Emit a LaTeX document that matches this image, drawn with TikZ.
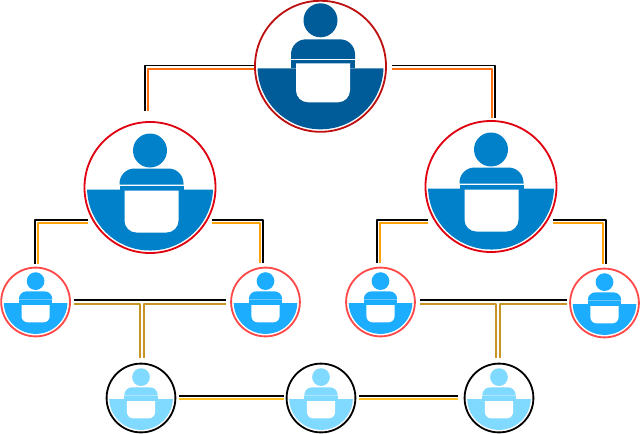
\documentclass[tikz,border=0pt]{standalone}
\usepackage{tikz}
\usetikzlibrary{calc}
\usepackage{xcolor}
\definecolor{ringBoss}{HTML}{BE1010}
\definecolor{ringMgr}{HTML}{E00010}
\definecolor{ringLead}{HTML}{FF4848}
\definecolor{fillBoss}{HTML}{005C99}
\definecolor{fillMgr}{HTML}{0081C9}
\definecolor{fillLead}{HTML}{1CADFF}
\definecolor{fillStaff}{HTML}{80D9FF}
\definecolor{wireBoss}{HTML}{FF6E10}
\definecolor{wireMgr}{HTML}{FFA20A}
\definecolor{wireLead}{HTML}{C8961E}
\definecolor{wireStaff}{HTML}{FFC01E}
\tikzset{
  bigring/.style={draw=#1, line width=1.3pt, circle, fill=white, inner sep=0pt, minimum size=3.275cm},
  smallring/.style={draw=#1, line width=1.3pt, circle, fill=white, inner sep=0pt, minimum size=1.72cm},
  wire/.style={draw=#1, line width=1.35pt, line join=round},
  pics/person/.style n args={8}{code={
    \fill[#1] (0,#2) circle[radius=17];
    \fill[#1] (#7,2) arc[start angle=1.8, end angle=178.2, radius=#7] -- cycle;
    \begin{scope}[shift={(#8,0)}]
    \fill[#1] (-32,#4-1.5) -- (-32,#3+15) arc[start angle=180, end angle=270, radius=15]
      -- (17,#3) arc[start angle=270, end angle=360, radius=15] -- (32,#4-1.5) -- cycle;
    \fill[#1] (-32,#4) rectangle (32,2);
    \fill[white] (-27,#5) -- (27,#5) -- (27,#6-12) arc[start angle=0, end angle=90, radius=12]
      -- (-15,#6) arc[start angle=90, end angle=180, radius=12] -- cycle;
    \end{scope}
  }},
}
\begin{document}
\begin{tikzpicture}[x=0.025cm, y=-0.025cm]
\useasboundingbox (0,0) rectangle (640,434);
% rings
\node[bigring=ringBoss] (boss) at (320.5,66.3) {};
\node[bigring=ringMgr] (mgrL) at (150,187.5) {};
\node[bigring=ringMgr] (mgrR) at (491,186.5) {};
\node[smallring=ringLead] (leadA) at (35.6,302) {};
\node[smallring=ringLead] (leadB) at (265.5,302) {};
\node[smallring=ringLead] (leadC) at (380.5,302) {};
\node[smallring=ringLead] (leadD) at (604.5,303) {};
\node[smallring=black] (staffA) at (141,398) {};
\node[smallring=black] (staffB) at (321,398) {};
\node[smallring=black] (staffC) at (499,398) {};
% icons
\pic at (boss) {person={fillBoss}{-46}{-27}{-6}{-3}{36}{63}{2.5}};
\pic at (mgrL) {person={fillMgr}{-37}{-19}{-1.5}{3}{45}{63}{1.5}};
\pic at (mgrR) {person={fillMgr}{-37}{-19}{-1.5}{3}{45}{63}{0.5}};
\pic[scale=.522] at (leadA) {person={fillLead}{-40}{-20.5}{-3}{6}{39}{61}{0}};
\pic[scale=.522] at (leadB) {person={fillLead}{-40}{-20.5}{-3}{6}{39}{61}{0}};
\pic[scale=.522] at (leadC) {person={fillLead}{-40}{-20.5}{-3}{6}{39}{61}{0}};
\pic[scale=.522] at (leadD) {person={fillLead}{-40}{-20.5}{-3}{6}{39}{61}{0}};
\pic[scale=.522] at (staffA) {person={fillStaff}{-40}{-20.5}{-3}{6}{39}{61}{0}};
\pic[scale=.522] at (staffB) {person={fillStaff}{-40}{-20.5}{-3}{6}{39}{61}{0}};
\pic[scale=.522] at (staffC) {person={fillStaff}{-40}{-20.5}{-3}{6}{39}{61}{0}};
% top level
\draw[wire=black] ($(boss)+(-66.5,-0.8)$) -| ($(mgrL)+(-5,-77)$);
\draw[wire=wireBoss] ($(boss)+(-66.5,2.4)$) -| ($(mgrL)+(-2,-77)$);
\draw[wire=black] ($(boss)+(71.5,-0.8)$) -| ($(mgrR)+(3.7,-68.8)$);
\draw[wire=wireBoss] ($(boss)+(71.5,2.4)$) -| ($(mgrR)+(0.7,-68.8)$);
% second level
\draw[wire=black] ($(mgrL)+(-62.5,32.5)$) -| ($(leadA)+(-0.6,-38)$);
\draw[wire=wireMgr] ($(mgrL)+(-62.5,35.7)$) -| ($(leadA)+(2.4,-38)$);
\draw[wire=black] ($(mgrL)+(62.3,32.5)$) -| ($(leadB)+(-2.2,-39)$);
\draw[wire=wireMgr] ($(mgrL)+(62.3,35.7)$) -| ($(leadB)+(-5.2,-39)$);
\draw[wire=black] ($(mgrR)+(-62.7,33.5)$) -| ($(leadC)+(-3.8,-39)$);
\draw[wire=wireMgr] ($(mgrR)+(-62.7,36.7)$) -| ($(leadC)+(-0.8,-39)$);
\draw[wire=black] ($(mgrR)+(62,33.5)$) -| ($(leadD)+(1.2,-39)$);
\draw[wire=wireMgr] ($(mgrR)+(62,36.7)$) -| ($(leadD)+(-1.8,-39)$);
% third level
\draw[wire=black] ($(leadA)+(38.7,-1.6)$) -- ($(leadB)+(-39.8,-1.6)$);
\draw[wire=wireLead] ($(leadA)+(38.7,1.9)$) -| ($(staffA)+(-0.7,-40)$);
\draw[wire=wireLead] ($(leadB)+(-39.8,1.9)$) -| ($(staffA)+(3,-40)$);
\draw[wire=black] ($(leadC)+(39.5,-1.6)$) -- ($(leadD)+(-37.8,-2.6)$);
\draw[wire=wireLead] ($(leadC)+(39.5,1.9)$) -| ($(staffC)+(-3,-40)$);
\draw[wire=wireLead] ($(leadD)+(-37.8,0.9)$) -| ($(staffC)+(0.7,-40)$);
% bottom level
\draw[wire=black] ($(staffA)+(38,-2)$) -- ($(staffB)+(-37.3,-2)$);
\draw[wire=wireStaff] ($(staffA)+(38,1.2)$) -- ($(staffB)+(-37.3,1.2)$);
\draw[wire=black] ($(staffB)+(38,-2)$) -- ($(staffC)+(-41,-2)$);
\draw[wire=wireStaff] ($(staffB)+(38,1.2)$) -- ($(staffC)+(-41,1.2)$);
\end{tikzpicture}
\end{document}
